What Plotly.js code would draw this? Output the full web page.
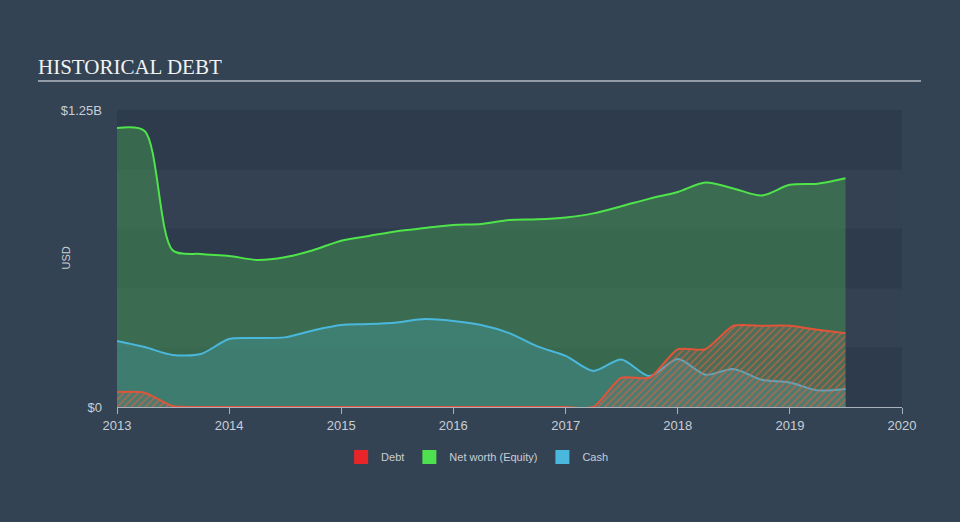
<!DOCTYPE html>
<html>
<head>
<meta charset="utf-8">
<script src="https://cdn.plot.ly/plotly-3.0.1.min.js"></script>
<style>
html,body{margin:0;padding:0;background:#334353;}
#chart{width:960px;height:522px;}
</style>
</head>
<body>
<div id="chart"></div>
<script>
// Quarterly dates
var dates = ["2013-01-01","2013-04-01","2013-07-01","2013-10-01",
  "2014-01-01","2014-04-01","2014-07-01","2014-10-01",
  "2015-01-01","2015-04-01","2015-07-01","2015-10-01",
  "2016-01-01","2016-04-01","2016-07-01","2016-10-01",
  "2017-01-01","2017-04-01","2017-07-01","2017-10-01",
  "2018-01-01","2018-04-01","2018-07-01","2018-10-01",
  "2019-01-01","2019-04-01","2019-07-01"];
// values in billions USD
var netWorth = [1.174,1.162,0.66,0.644,
  0.636,0.619,0.63,0.66,
  0.70,0.72,0.74,0.753,
  0.766,0.77,0.787,0.79,
  0.798,0.815,0.845,0.877,
  0.905,0.945,0.92,0.89,
  0.935,0.94,0.963];
var cash = [0.278,0.2525,0.219,0.223,
  0.286,0.29,0.293,0.322,
  0.345,0.349,0.356,0.37,
  0.362,0.345,0.311,0.255,
  0.215,0.152,0.20,0.13,
  0.202,0.136,0.16,0.115,
  0.103,0.07,0.076];
var debt = [0.063,0.060,0.004,0,
  0,0,0,0,
  0,0,0,0,
  0,0,0,0,
  0,0,0.123,0.123,
  0.243,0.243,0.342,0.342,
  0.342,0.325,0.31];
var seriesNames = ["Debt","Net worth (Equity)","Cash"];
var yTickVals = [0, 1.25];
var yTickText = ["$0","$1.25B"];
var xTickVals = ["2013-01-01","2014-01-01","2015-01-01","2016-01-01","2017-01-01","2018-01-01","2019-01-01","2020-01-01"];
var xTickText = ["2013","2014","2015","2016","2017","2018","2019","2020"];

var cDebt = "#e8262a", cNet = "#4fe04f", cCash = "#4ab8dc";
var lineDebt = "#e0553a", lineNet = "#4ee44a", lineCash = "#4ab8dc";

var traces = [
  {x: dates, y: netWorth, type: "scatter", mode: "lines", name: seriesNames[1],
   line: {color: lineNet, width: 2, shape: "spline", smoothing: 0.8},
   fill: "tozeroy", fillcolor: "rgba(80,210,80,0.3)", showlegend: false},
  {x: dates, y: cash, type: "scatter", mode: "lines", name: seriesNames[2],
   line: {color: lineCash, width: 2, shape: "spline", smoothing: 0.8},
   fill: "tozeroy", fillcolor: "rgba(74,184,216,0.25)", showlegend: false},
  {x: dates, y: debt, type: "scatter", mode: "lines", name: seriesNames[0],
   line: {color: lineDebt, width: 2, shape: "spline", smoothing: 0.6},
   fill: "tozeroy",
   fillpattern: {shape: "/", fgcolor: "rgba(225,95,65,0.75)", bgcolor: "rgba(130,120,110,0.25)", size: 5, solidity: 0.25},
   showlegend: false},
  // legend entries
  {x: [null], y: [null], type: "scatter", mode: "markers", name: seriesNames[0],
   marker: {symbol: "square", size: 14, color: cDebt}, legendrank: 1},
  {x: [null], y: [null], type: "scatter", mode: "markers", name: seriesNames[1],
   marker: {symbol: "square", size: 14, color: cNet}, legendrank: 2},
  {x: [null], y: [null], type: "scatter", mode: "markers", name: seriesNames[2],
   marker: {symbol: "square", size: 14, color: cCash}, legendrank: 3}
];

var pl = 117, pr = 902, pt = 110, pb = 407;
function px2paperX(p){ return (p - pl) / (pr - pl); }
function px2paperY(p){ return (pb - p) / (pb - pt); }

var layout = {
  width: 960, height: 522,
  paper_bgcolor: "#334353",
  plot_bgcolor: "#2e3b4c",
  margin: {l: pl, r: 960 - pr, t: pt, b: 522 - pb, pad: 0},
  font: {family: "Liberation Sans, Arial, sans-serif", color: "#c8ced6", size: 13},
  title: {text: "HISTORICAL DEBT", font: {family: "Liberation Serif, Times New Roman, serif", size: 21, color: "#f2f2f2"},
          xref: "container", x: 38/960, xanchor: "left", yref: "container", y: 1 - 67/522, yanchor: "middle"},
  xaxis: {type: "date", range: ["2013-01-01","2020-01-01"], tickvals: xTickVals, ticktext: xTickText,
          showgrid: false, zeroline: false, showline: true, linecolor: "#a9b1bc", linewidth: 1,
          ticks: "outside", ticklen: 6, tickcolor: "#a9b1bc", tickfont: {size: 13, color: "#c8ced6"}, fixedrange: true},
  yaxis: {range: [0, 1.25], tickvals: yTickVals, ticktext: yTickText, showgrid: false, zeroline: false,
          showline: false, ticks: "", ticklabelstandoff: 14, tickfont: {size: 13, color: "#c8ced6"}, fixedrange: true},
  showlegend: true,
  legend: {orientation: "h", xref: "container", x: 0.497, xanchor: "center", yref: "container", y: 1 - 457/522, yanchor: "middle",
           font: {size: 11, color: "#c8ced6"}, bgcolor: "rgba(0,0,0,0)", itemclick: false, itemdoubleclick: false},
  shapes: [
    {type: "rect", xref: "paper", yref: "y", x0: 0, x1: 1, y0: 0.25, y1: 0.5, fillcolor: "#334152", line: {width: 0}, layer: "below"},
    {type: "rect", xref: "paper", yref: "y", x0: 0, x1: 1, y0: 0.75, y1: 1.0, fillcolor: "#334152", line: {width: 0}, layer: "below"},
    {type: "line", xref: "paper", yref: "paper", x0: px2paperX(38), x1: px2paperX(921), y0: px2paperY(81), y1: px2paperY(81),
     line: {color: "#b4bac2", width: 1.5}}
  ],
  annotations: [
    {text: "USD", xref: "paper", yref: "paper", x: px2paperX(65), y: 0.5, textangle: -90, showarrow: false,
     font: {size: 11, color: "#c8ced6"}, xanchor: "center", yanchor: "middle"}
  ]
};

Plotly.newPlot("chart", traces, layout, {displayModeBar: false, staticPlot: true});
</script>
</body>
</html>
